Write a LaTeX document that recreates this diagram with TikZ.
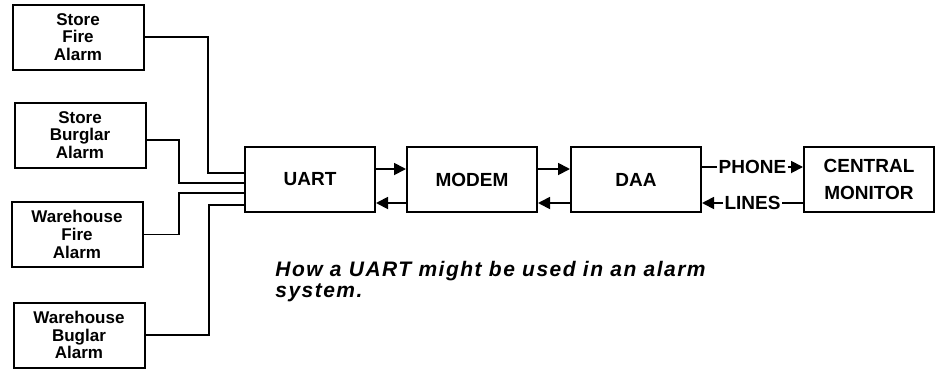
\documentclass[tikz,border=0pt]{standalone}
\usepackage{fontspec}
\setmainfont{Liberation Sans}
\usetikzlibrary{positioning, arrows.meta, calc}

\begin{document}
\begin{tikzpicture}[
  x=0.5pt, y=-0.5pt,
  font=\bfseries,
  node distance=15pt,
  alarmbox/.style={draw, line width=1pt, minimum width=65.5pt, minimum height=32.5pt, align=center, inner sep=1pt, font=\fontsize{8.5}{8.8}\selectfont\bfseries},
  unitbox/.style={draw, line width=1pt, minimum width=65pt, minimum height=32.5pt, align=center, inner sep=1pt, font=\fontsize{9.5}{13.5}\selectfont\bfseries},
  wire/.style={line width=0.9pt},
  link/.style={line width=0.9pt, -{Triangle[length=6pt,width=6pt]}},
  linelbl/.style={inner sep=0.5pt, font=\fontsize{9.5}{11}\selectfont\bfseries},
  caption/.style={align=left, inner sep=0pt, font=\fontsize{10.5}{10.5}\selectfont\bfseries\itshape\addfontfeature{LetterSpace=7}}
]
\useasboundingbox (0,0) rectangle (935,370);

% alarm sensors
\node[alarmbox] (sfire) at (78,37) {Store\\Fire\\Alarm};
\node[alarmbox] (sburg) at (80,135) {Store\\Burglar\\Alarm};
\node[alarmbox] (wfire) at (77,234.5) {Warehouse\\Fire\\Alarm};
\node[alarmbox] (wburg) at (79,335) {Warehouse\\Buglar\\Alarm};

% transmission chain
\node[unitbox] (uart) at (310,179.5) {UART};
\node[unitbox, right=of uart] (modem) {MODEM};
\node[unitbox, right=16pt of modem] (daa) {DAA};
\node[unitbox, right=50.5pt of daa] (central) {CENTRAL\\MONITOR};

% inputs to the UART
\coordinate (in1) at ([yshift=3.25pt]uart.west);
\coordinate (in2) at ([yshift=-1.75pt]uart.west);
\coordinate (in3) at ([yshift=-6.75pt]uart.west);
\coordinate (in4) at ([yshift=-12.75pt]uart.west);
\draw[wire] (sfire.east) -| ([xshift=-18pt]in1) -- (in1);
\draw[wire] ([yshift=-2.5pt]sburg.east) -| ([xshift=-32.5pt]in2) -- (in2);
\draw[wire] (wfire.east) -| ([xshift=-32.5pt]in3) -- (in3);
\draw[wire] (wburg.east) -| ([xshift=-17.5pt]in4) -- (in4);

% two-way links
\draw[link] ([yshift=-11.5pt]uart.north east) -- ([yshift=-11.5pt]modem.north west);
\draw[link] ([yshift=5pt]modem.south west) -- ([yshift=5pt]uart.south east);
\draw[link] ([yshift=-11.5pt]modem.north east) -- ([yshift=-11.5pt]daa.north west);
\draw[link] ([yshift=5pt]daa.south west) -- ([yshift=5pt]modem.south east);

% phone lines
\node[linelbl] (phone) at ($(daa.north east)!0.5!(central.north west)+(0,21)$) {PHONE};
\draw[wire] (daa.east |- phone.west) -- (phone.west);
\draw[link] (phone.east) -- (central.west |- phone.east);
\node[linelbl] (lines) at ($(daa.south east)!0.5!(central.south west)+(0,-10)$) {LINES};
\draw[link] (lines.west) -- (daa.east |- lines.west);
\draw[wire] (central.west |- lines.east) -- (lines.east);

\node[caption, anchor=base west] (note) at (275,297) {How a UART might be used in an alarm\\system.};
\end{tikzpicture}
\end{document}
